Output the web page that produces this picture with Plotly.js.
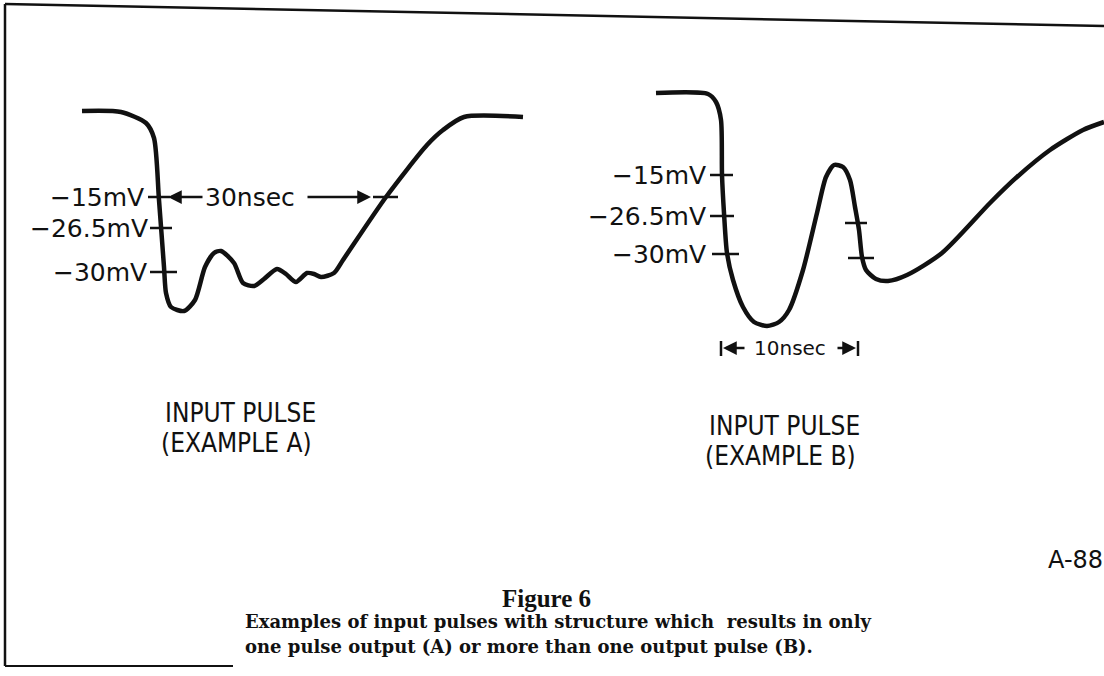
<!DOCTYPE html>
<html>
<head>
<meta charset="utf-8">
<script src="https://cdn.plot.ly/plotly-3.0.1.min.js"></script>
<style>html,body{margin:0;padding:0;background:#fff;}#chart{width:1104px;height:676px;}</style>
</head>
<body>
<div id="chart"></div>
<script>
// Example A pulse trace (drawing units: time to the right, voltage drawn downward)
const tA = [82,121,146,154,159,164,166,171,184,195,205,214,221,234,243,254,264,277,286,296,307,314,321,334,343,386,427,443,464,523];
const vA = [111,112,123,138,200,267,293,307,311,300,267,253,251,263,283,286,279,269,274,282,273,274,277,273,260,197,145,130,117,117];
// Example B pulse trace
const tB = [656,708,716,721,722,724,727,733,743,754,767,779,789,803,817,826,834,843,850,855,859,862,866,876,888,907,942,990,1017,1050,1083,1104];
const vB = [93,94,102,120,175,213,253,280,307,322,326,322,310,270,213,177,165,167,180,207,230,257,270,279,281,275,253,203,177,150,130,122];

// level labels and their drawing levels
const levelLabels = ['\u221215mV', '\u221226.5mV', '\u221230mV'];
const levelsA = [197, 228, 272];
const levelsB = [175, 216, 254];
const levelsB2 = [223, 258];

const titleA = ['INPUT PULSE', '(EXAMPLE A)'];
const titleB = ['INPUT PULSE', '(EXAMPLE B)'];
const figTitle = 'Figure 6';
const caption = ['Examples of input pulses with structure which  results in only',
                 'one pulse output (A) or more than one output pulse (B).'];
const widthA = '30nsec';
const widthB = '10nsec';
const refCode = 'A-88';

const ink = '#111';
const letterFont = {family: 'DejaVu Sans, sans-serif', size: 25, color: ink};

const traces = [
  {x: tA, y: vA, mode: 'lines', line: {color: ink, width: 4.5, shape: 'spline', smoothing: 0.7}, hoverinfo: 'skip'},
  {x: tB, y: vB, mode: 'lines', line: {color: ink, width: 4.5, shape: 'spline', smoothing: 0.7}, hoverinfo: 'skip'}
];

const shapes = [];
function seg(x0, y0, x1, y1, w) {
  shapes.push({type: 'line', xref: 'x', yref: 'y', x0: x0, y0: y0, x1: x1, y1: y1, line: {color: ink, width: w || 2.5}});
}
// frame
seg(5, 4, 1104, 26, 2.5);
seg(5, 4, 5, 666, 2.5);
seg(5, 666, 233, 666, 2);
// level ticks A
seg(148, levelsA[0], 170, levelsA[0]);
seg(150, levelsA[1], 172, levelsA[1]);
seg(150, levelsA[2], 177, levelsA[2]);
// 30nsec end tick
seg(373, levelsA[0], 398, levelsA[0]);
// level ticks B
seg(710, levelsB[0], 733, levelsB[0]);
seg(710, levelsB[1], 734, levelsB[1]);
seg(712, levelsB[2], 739, levelsB[2]);
seg(845, levelsB2[0], 867, levelsB2[0]);
seg(848, levelsB2[1], 874, levelsB2[1]);
// 10nsec end bars
seg(721, 341, 721, 356, 2.5);
seg(858, 341, 858, 356, 2.5);

const ann = [];
function txt(x, y, s, font, xa) {
  ann.push({x: x, y: y, xref: 'x', yref: 'y', text: s, showarrow: false, font: font, xanchor: xa || 'center', yanchor: 'middle'});
}
function arrow(xh, yh, xt, yt) {
  ann.push({x: xh, y: yh, ax: xt, ay: yt, xref: 'x', yref: 'y', axref: 'x', ayref: 'y', text: '', showarrow: true,
            arrowhead: 2, arrowsize: 1.1, arrowwidth: 2.5, arrowcolor: ink, standoff: 0, startstandoff: 0});
}
// A labels
txt(146, levelsA[0], levelLabels[0], letterFont, 'right');
txt(150, levelsA[1], levelLabels[1], letterFont, 'right');
txt(149, levelsA[2], levelLabels[2], letterFont, 'right');
txt(250, levelsA[0], widthA, letterFont, 'center');
arrow(168, levelsA[0], 204, levelsA[0]);
arrow(371, levelsA[0], 306, levelsA[0]);
// B labels
txt(708, levelsB[0], levelLabels[0], letterFont, 'right');
txt(708, levelsB[1], levelLabels[1], letterFont, 'right');
txt(708, levelsB[2], levelLabels[2], letterFont, 'right');
txt(790, 348, widthB, {family: 'DejaVu Sans, sans-serif', size: 20, color: ink}, 'center');
arrow(723, 348, 746, 348);
arrow(856, 348, 836, 348);
// titles
const bigFont = {family: 'DejaVu Sans Condensed, DejaVu Sans, sans-serif', size: 26, color: ink};
txt(240, 413, titleA[0], bigFont);
txt(236, 443, titleA[1], bigFont);
txt(784, 426, titleB[0], bigFont);
txt(780, 456, titleB[1], bigFont);
txt(1046, 560, refCode, {family: 'DejaVu Sans, sans-serif', size: 24, color: ink}, 'left');
txt(546, 598, '<b>' + figTitle + '</b>', {family: 'Liberation Serif, serif', size: 25, color: ink});
const capFont = {family: 'DejaVu Serif, serif', size: 18, color: ink, weight: 'bold'};
txt(243, 621, caption[0], capFont, 'left');
txt(243, 646, caption[1], capFont, 'left');

const layout = {
  width: 1104, height: 676,
  margin: {l: 0, r: 0, t: 0, b: 0},
  paper_bgcolor: '#fff', plot_bgcolor: '#fff',
  showlegend: false,
  xaxis: {range: [0, 1104], visible: false, fixedrange: true},
  yaxis: {range: [676, 0], visible: false, fixedrange: true},
  shapes: shapes,
  annotations: ann
};
Plotly.newPlot('chart', traces, layout, {staticPlot: true, displayModeBar: false});
</script>
</body>
</html>
